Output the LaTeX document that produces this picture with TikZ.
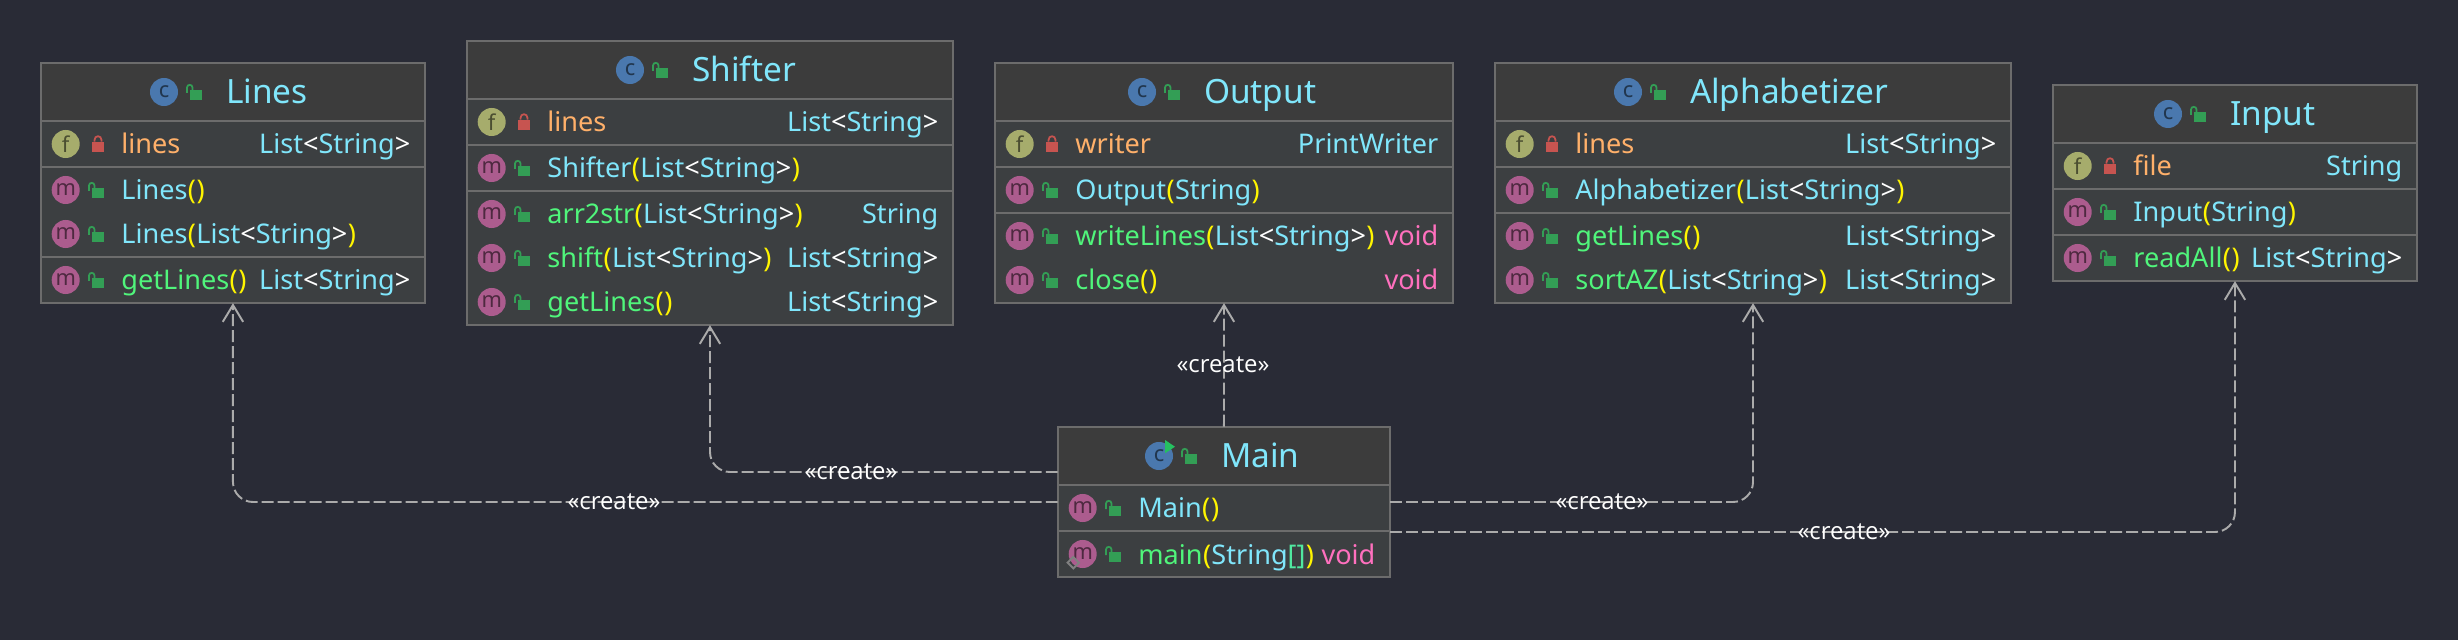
\documentclass[tikz,border=0pt]{standalone}
\usepackage{fontspec}
\setmainfont{Noto Sans}
\newfontfamily\labelfont{Open Sans}
\usetikzlibrary{arrows.meta}

\definecolor{bgc}{HTML}{292B36}
\definecolor{headc}{HTML}{3C3C3C}
\definecolor{rowc}{HTML}{3C3F41}
\definecolor{borderc}{HTML}{6C6C6C}
\definecolor{typec}{HTML}{80E6FB}
\definecolor{methc}{HTML}{50F57B}
\definecolor{fieldc}{HTML}{FFB06A}
\definecolor{voidc}{HTML}{FF70BE}
\definecolor{parenc}{HTML}{FFF500}
\definecolor{arrc}{HTML}{50E8A0}
\definecolor{linkc}{HTML}{ABABAB}
\definecolor{lockg}{HTML}{339E55}
\definecolor{lockr}{HTML}{C75450}
\definecolor{iconcf}{HTML}{4A78AE}
\definecolor{iconff}{HTML}{A6AC6C}
\definecolor{iconmf}{HTML}{AC5C8E}
\definecolor{runc}{HTML}{25C060}

\def\pL{\kern0.1pt\textcolor{parenc}{(}\kern0.1pt}
\def\pR{\kern0.1pt\textcolor{parenc}{)}\kern0.1pt}
\def\ListStr{List\textcolor{white}{<}String\textcolor{white}{>}}
\def\mn#1{\textcolor{methc}{#1}}
\def\vd{\textcolor{voidc}{void}}

\tikzset{
	rowtext/.style={inner sep=0, text=typec, font=\fontsize{7.7pt}{9pt}\selectfont},
	titletext/.style={inner sep=0, text=typec, anchor=base west, font=\fontsize{9.5pt}{11pt}\selectfont},
	roundicon/.style={circle, inner sep=0, minimum size=0.28cm, font=\fontsize{6.2pt}{7pt}\selectfont},
	classicon/.style={roundicon, fill=iconcf, text=iconcf!45!black},
	fieldicon/.style={roundicon, fill=iconff, text=iconff!45!black},
	methicon/.style={roundicon, fill=iconmf, text=iconmf!45!black},
	classbox/.style={draw=borderc, fill=rowc, line width=0.48pt, outer sep=0, inner sep=0, anchor=north west},
	headbox/.style={draw=borderc, fill=headc, line width=0.48pt, outer sep=0, inner sep=0, anchor=north west},
	sepline/.style={draw=borderc, line width=0.48pt},
	createlink/.style={draw=linkc, line width=0.55pt, rounded corners=0.2cm, dash pattern=on 3.4pt off 1.15pt, -{Straight Barb[length=4.8pt,width=5.8pt]}},
	createtext/.style={inner sep=0, text=white, font=\labelfont\fontsize{6.8pt}{8pt}\selectfont}
}

\def\pubLock(#1,#2){
	\begin{scope}[shift={(#1,#2)}]
		\fill[lockg] (0, -1.7) rectangle (12, 7.7);
		\draw[lockg, line width=0.5pt] (-3, 1) -- (-3, -4.5) .. controls (-3, -8) and (2.5, -8) .. (2.5, -4.5) -- (2.5, -1.7);
	\end{scope}
}
\def\priLock(#1,#2){
	\begin{scope}[shift={(#1,#2)}]
		\fill[lockr] (0, -2.3) rectangle (12, 7.7);
		\draw[lockr, line width=0.5pt] (2.5, -2.3) -- (2.5, -4) .. controls (2.5, -9) and (9.5, -9) .. (9.5, -4) -- (9.5, -2.3);
	\end{scope}
}
\def\classTitle(#1)(#2,#3)#4{
	\node[classicon] (#1-icon) at (#2,#3) {c};
	\pubLock(#2+26,#3)
	\node[titletext] (#1-title) at ({#2+61.3},{#3+11.5}) {#4};
}
\def\fieldRow(#1)(#2,#3,#4)#5#6{
	\node[fieldicon] (#1-icon) at ({#2+25},#4) {f};
	\priLock(#2+51.3,#4)
	\node[rowtext, anchor=base west, text=fieldc] (#1-name) at ({#2+80},{#4+10}) {#5};
	\node[rowtext, anchor=base east] (#1-type) at ({#3-14},{#4+10}) {#6};
}
\def\ctorRow(#1)(#2,#3)#4{
	\node[methicon] (#1-icon) at ({#2+25},#3) {m};
	\pubLock(#2+51.3,#3)
	\node[rowtext, anchor=base west] (#1-name) at ({#2+80},{#3+10}) {#4};
}
\def\methRow(#1)(#2,#3,#4)#5#6{
	\ctorRow(#1)(#2,#4){#5}
	\node[rowtext, anchor=base east] (#1-type) at ({#3-14},{#4+10}) {#6};
}

\begin{document}
\begin{tikzpicture}[x=0.01cm, y=-0.01cm]
	\useasboundingbox (0, 0) rectangle (2458, 640);
	\fill[bgc] (0, 0) rectangle (2458, 640);

	%%%%% LINES %%%%%
	\node[classbox, minimum width=3.843cm, minimum height=2.403cm] (lines) at (40.7, 62.7) {};
	\node[headbox, minimum width=3.843cm, minimum height=0.58cm] (lines-head) at (lines.north west) {};
	\draw[sepline] (40.7, 166.7) -- (425, 166.7);
	\draw[sepline] (40.7, 257) -- (425, 257);
	\classTitle(lines-c)(164,92){Lines}
	\fieldRow(lines-f)(40.7,425,144){lines}{\ListStr}
	\ctorRow(lines-k1)(40.7,190){Lines\pL\pR}
	\ctorRow(lines-k2)(40.7,234){Lines\pL\ListStr\pR}
	\methRow(lines-m)(40.7,425,280){\mn{getLines}\pL\pR}{\ListStr}

	%%%%% SHIFTER %%%%%
	\node[classbox, minimum width=4.863cm, minimum height=2.843cm] (shifter) at (466.7, 40.7) {};
	\node[headbox, minimum width=4.863cm, minimum height=0.583cm] (shifter-head) at (shifter.north west) {};
	\draw[sepline] (466.7, 145) -- (953, 145);
	\draw[sepline] (466.7, 191) -- (953, 191);
	\classTitle(shifter-c)(630,70){Shifter}
	\fieldRow(shifter-f)(466.7,953,122){lines}{\ListStr}
	\ctorRow(shifter-k)(466.7,168){Shifter\pL\ListStr\pR}
	\methRow(shifter-m1)(466.7,953,214){\mn{arr2str}\pL\ListStr\pR}{String}
	\methRow(shifter-m2)(466.7,953,258){\mn{shift}\pL\ListStr\pR}{\ListStr}
	\methRow(shifter-m3)(466.7,953,302){\mn{getLines}\pL\pR}{\ListStr}

	%%%%% OUTPUT %%%%%
	\node[classbox, minimum width=4.583cm, minimum height=2.403cm] (output) at (994.7, 62.7) {};
	\node[headbox, minimum width=4.583cm, minimum height=0.583cm] (output-head) at (output.north west) {};
	\draw[sepline] (994.7, 167) -- (1453, 167);
	\draw[sepline] (994.7, 213) -- (1453, 213);
	\classTitle(output-c)(1142,92){Output}
	\fieldRow(output-f)(994.7,1453,144){writer}{PrintWriter}
	\ctorRow(output-k)(994.7,190){Output\pL String\pR}
	\methRow(output-m1)(994.7,1453,236){\mn{writeLines}\pL\ListStr\pR}{\vd}
	\methRow(output-m2)(994.7,1453,280){\mn{close}\pL\pR}{\vd}

	%%%%% ALPHABETIZER %%%%%
	\node[classbox, minimum width=5.163cm, minimum height=2.403cm] (alpha) at (1494.7, 62.7) {};
	\node[headbox, minimum width=5.163cm, minimum height=0.583cm] (alpha-head) at (alpha.north west) {};
	\draw[sepline] (1494.7, 167) -- (2011, 167);
	\draw[sepline] (1494.7, 213) -- (2011, 213);
	\classTitle(alpha-c)(1628,92){Alphabetizer}
	\fieldRow(alpha-f)(1494.7,2011,144){lines}{\ListStr}
	\ctorRow(alpha-k)(1494.7,190){Alphabetizer\pL\ListStr\pR}
	\methRow(alpha-m1)(1494.7,2011,236){\mn{getLines}\pL\pR}{\ListStr}
	\methRow(alpha-m2)(1494.7,2011,280){\mn{sortAZ}\pL\ListStr\pR}{\ListStr}

	%%%%% INPUT %%%%%
	\node[classbox, minimum width=3.643cm, minimum height=1.963cm] (input) at (2052.7, 84.7) {};
	\node[headbox, minimum width=3.643cm, minimum height=0.583cm] (input-head) at (input.north west) {};
	\draw[sepline] (2052.7, 189) -- (2417, 189);
	\draw[sepline] (2052.7, 235) -- (2417, 235);
	\classTitle(input-c)(2168,114){Input}
	\fieldRow(input-f)(2052.7,2417,166){file}{String}
	\ctorRow(input-k)(2052.7,212){Input\pL String\pR}
	\methRow(input-m)(2052.7,2417,258){\mn{readAll}\pL\pR}{\ListStr}

	%%%%% MAIN %%%%%
	\node[classbox, minimum width=3.323cm, minimum height=1.503cm] (main) at (1057.7, 426.7) {};
	\node[headbox, minimum width=3.323cm, minimum height=0.583cm] (main-head) at (main.north west) {};
	\draw[sepline] (1057.7, 531) -- (1390, 531);
	\classTitle(main-c)(1159,456){Main}
	\fill[runc] (1165, 440) -- (1175, 446.7) -- (1165, 453.3) -- cycle;
	\ctorRow(main-k)(1057.7,508){Main\pL\pR}
	\methRow(main-m)(1057.7,1390,554){\mn{main}\pL String\textcolor{arrc}{[]}\pR}{\vd}
	\draw[line width=0.55pt, draw=gray] (1073.3, 557) -- (1079, 562.7) -- (1073.3, 568.4) -- (1067.6, 562.7) -- cycle;

	%%%%% LINKS %%%%%
	\coordinate (mainA) at (1057.7, 472);
	\coordinate (mainB) at (1057.7, 502);
	\coordinate (mainC) at (1390, 502);
	\coordinate (mainD) at (1390, 532);

	\draw[createlink] (main.north) -- (output.south);
	\draw[createlink] (mainA) -| (shifter.south);
	\draw[createlink] (mainB) -| (lines.south);
	\draw[createlink] (mainC) -| (alpha.south);
	\draw[createlink] (mainD) -| (input.south);

	\node[createtext] (createO) at (1223, 365) {«create»};
	\node[createtext] (createS) at (851, 472) {«create»};
	\node[createtext] (createL) at (614, 502) {«create»};
	\node[createtext] (createA) at (1602, 502) {«create»};
	\node[createtext] (createI) at (1844, 532) {«create»};
\end{tikzpicture}
\end{document}
